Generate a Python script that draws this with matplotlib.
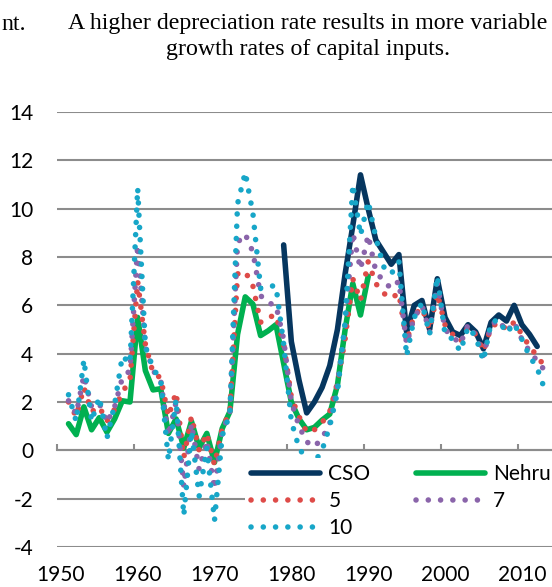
import matplotlib
matplotlib.use("Agg")
import matplotlib.pyplot as plt
import numpy as np

# ---------------- data ----------------
years_dotted = list(range(1951, 2014))
dep5 = [2.0, 1.4, 2.6, 1.6, 1.8, 1.2, 1.7, 2.4, 2.9, 7.0,
        4.4, 3.2, 3.0, 1.4, 2.4, -0.3, 1.4, 0.0, 0.7, -0.6,
        0.9, 1.6, 7.3, 7.4, 6.8, 5.3, 5.5, 5.6, 4.4, 2.2,
        1.4, 0.75, 0.85, 1.15, 1.6, 2.8, 4.6, 7.1, 6.2, 7.8,
        6.9, 6.5, 6.3, 6.5, 4.5, 5.6, 5.9, 5.0, 6.5, 5.2,
        4.8, 4.5, 5.1, 4.8, 4.1, 5.1, 5.3, 5.0, 5.3, 4.8,
        4.3, 3.9, 3.45]
dep7 = [2.05, 1.5, 3.1, 1.8, 1.95, 1.15, 1.8, 3.0, 3.3, 8.5,
        4.3, 3.3, 2.9, 0.6, 2.0, -1.5, 1.1, -0.8, 0.4, -1.6,
        0.8, 1.55, 8.6, 8.95, 8.2, 6.4, 6.1, 6.0, 4.6, 2.0,
        1.0, 0.35, 0.15, 0.5, 1.1, 2.7, 5.2, 9.0, 7.5, 8.9,
        7.4, 7.0, 6.7, 7.0, 4.4, 5.5, 6.0, 4.9, 6.9, 5.0,
        4.7, 4.4, 5.2, 4.75, 3.9, 5.2, 5.4, 4.9, 5.3, 4.6,
        4.1, 3.7, 3.3]
dep10 = [2.3, 1.2, 3.75, 1.2, 2.2, 0.5, 1.9, 3.9, 3.6, 10.85,
         4.3, 3.4, 2.9, -0.4, 2.1, -2.7, 0.8, -1.9, 0.1, -2.9,
         0.6, 1.5, 10.2, 11.5, 9.8, 6.7, 6.8, 6.8, 4.4, 1.2,
         0.1, -0.4, -0.5, 0.0, 1.0, 2.4, 5.3, 11.0, 8.9, 10.3,
         8.8, 7.6, 7.3, 7.8, 3.9, 5.5, 6.1, 4.8, 7.2, 4.8,
         4.6, 4.1, 5.1, 4.7, 3.7, 5.3, 5.4, 4.85, 5.25, 4.6,
         3.9, 3.4, 2.5]
years_nehru = list(range(1951, 1991))
nehru = [1.1, 0.65, 1.8, 0.85, 1.35, 0.75, 1.3, 2.05, 2.0, 5.5,
         3.3, 2.5, 2.55, 0.7, 1.3, 0.1, 1.2, 0.1, 0.7, -0.5,
         0.9, 1.6, 4.8, 6.35, 6.05, 4.75, 4.95, 5.2, 3.6, 2.0,
         1.3, 0.85, 0.95, 1.25, 1.5, 2.7, 5.0, 6.9, 5.6, 7.2]
years_cso = list(range(1979, 2013))
cso = [8.5, 4.5, 2.9, 1.55, 2.0, 2.6, 3.5, 5.0, 7.3, 9.3,
       11.4, 10.0, 8.7, 8.2, 7.7, 8.1, 4.9, 6.0, 6.2, 5.0,
       7.1, 5.5, 4.9, 4.75, 5.2, 4.9, 4.2, 5.3, 5.6, 5.35,
       6.0, 5.2, 4.8, 4.3]
x_labels = [1950, 1960, 1970, 1980, 1990, 2000, 2010]
y_ticks = list(range(-4, 15, 2))
title_line1 = "A higher depreciation rate results in more variable"
title_line2 = "growth rates of capital inputs."
left_fragment = "nt."

# ---------------- style ----------------
W, H = 552, 587
fig = plt.figure(figsize=(W / 100, H / 100), dpi=100)
FONT = "Lato"
FS = 15
GRID = "#8C8C8C"

def fx(px):
    return px / W

def fy(py):
    return 1 - py / H

ax_left, ax_right, ax_top, ax_bot = 57, 556.4, 112, 547
ax = fig.add_axes([fx(ax_left), fy(ax_bot), (ax_right - ax_left) / W, (ax_bot - ax_top) / H])

c_cso = "#06365F"
c_nehru = "#00B050"
c_5 = "#DE4B48"
c_7 = "#8A64AA"
c_10 = "#17A6C8"
dot = (0, (0.01, 2.2))
LW = 4.0

l_cso, = ax.plot(years_cso, cso, color=c_cso, lw=LW, solid_capstyle="round",
                 solid_joinstyle="round", label="CSO", zorder=3)
l_neh, = ax.plot(years_nehru, nehru, color=c_nehru, lw=LW, solid_capstyle="round",
                 solid_joinstyle="round", label="Nehru", zorder=3.1)
l_5, = ax.plot(years_dotted, dep5, color=c_5, lw=LW, linestyle=dot,
               dash_capstyle="round", label="5", zorder=3.2)
l_7, = ax.plot(years_dotted, dep7, color=c_7, lw=LW, linestyle=dot,
               dash_capstyle="round", label="7", zorder=3.3)
l_10, = ax.plot(years_dotted, dep10, color=c_10, lw=LW, linestyle=dot,
                dash_capstyle="round", label="10", zorder=3.4)

# grid
ax.set_yticks(y_ticks)
ax.set_yticklabels([str(v) for v in y_ticks], fontfamily=FONT, fontsize=FS)
ax.yaxis.grid(True, color=GRID, lw=1.5, zorder=1)
ax.set_axisbelow(True)
ax.tick_params(axis="y", length=0, pad=17)

for s in ["top", "right", "left"]:
    ax.spines[s].set_visible(False)
ax.spines["bottom"].set_position(("data", 0))
ax.spines["bottom"].set_color(GRID)
ax.spines["bottom"].set_linewidth(1.5)
ax.set_xticks([v - 0.5 for v in x_labels])
ax.tick_params(axis="x", direction="in", length=4.5, width=1.5, color=GRID,
               labelbottom=False)
ax.set_xlim(1949.5, 2014.5)
ax.set_ylim(-4, 14)

sec = ax.secondary_xaxis("bottom")
sec.set_xticks(x_labels)
sec.set_xticklabels([str(v) for v in x_labels], fontfamily=FONT, fontsize=FS)
sec.tick_params(length=0, pad=13)
sec.spines["bottom"].set_visible(False)

leg = ax.legend([l_cso, l_5, l_10, l_neh, l_7], ["CSO", "5", "10", "Nehru", "7"],
                ncol=2, loc="upper left",
                bbox_to_anchor=(fx(245), fy(458)), bbox_transform=fig.transFigure,
                frameon=True, fancybox=False, facecolor="white", edgecolor="none",
                framealpha=1, borderpad=0.3, handlelength=3.3, handletextpad=0.4,
                columnspacing=2.2, labelspacing=0.33, borderaxespad=0,
                prop={"family": FONT, "size": FS})
leg.set_zorder(10)

# title
TF = ["Liberation Serif"]
TS = 17.2
fig.text(fx(308), fy(24), title_line1, ha="center", va="center", fontfamily=TF, fontsize=TS)
fig.text(fx(308), fy(50), title_line2, ha="center", va="center", fontfamily=TF, fontsize=TS)
fig.text(fx(1), fy(24), left_fragment, ha="left", va="center", fontfamily=TF, fontsize=TS)

fig.savefig("out.png", dpi=100)
